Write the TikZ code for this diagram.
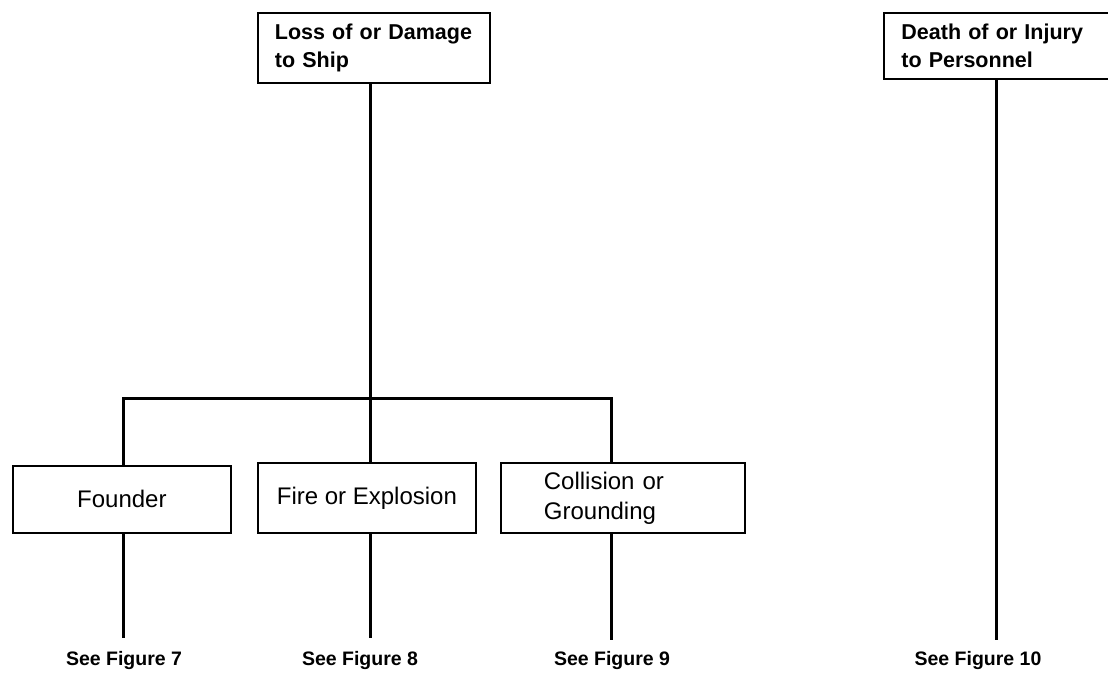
\documentclass[tikz,border=0pt]{standalone}
\usepackage{fontspec}
\setmainfont{Liberation Sans}
\begin{document}
\begin{tikzpicture}[x=1pt,y=-1pt,
  box/.style={draw=black, line width=1.8pt, inner sep=0pt, font=\fontsize{24}{30}\selectfont},
  topbox/.style={box, font=\bfseries\fontsize{21.5}{28}\selectfont},
  conn/.style={draw=black, line width=3pt},
  lbl/.style={inner sep=0pt, anchor=north, font=\bfseries\fontsize{19.5}{22}\selectfont}]
\useasboundingbox (0,0) rectangle (1108,679);
% top boxes
\node[topbox, anchor=north west, minimum width=232, minimum height=70, text width=198, align=left] (loss) at (257,12)
  {Loss of or Damage\\ to Ship};
\node[topbox, anchor=north west, minimum width=240, minimum height=66, text width=205, align=left] (death) at (883,12)
  {Death of or Injury\\ to Personnel};
% bottom boxes
\node[box, anchor=north west, minimum width=218, minimum height=67, align=center] (founder) at (12,465) {Founder};
\node[box, anchor=north west, minimum width=218, minimum height=70, align=center] (fire) at (257,462) {Fire or Explosion};
\node[box, anchor=north west, minimum width=244, minimum height=70, text width=158, align=left] (coll) at (500,462)
  {Collision or\\ Grounding};
% labels
\node[lbl] (l7) at (124,651) {See Figure 7};
\node[lbl] (l8) at (360,651) {See Figure 8};
\node[lbl] (l9) at (612,651) {See Figure 9};
\node[lbl] (l10) at (978,651) {See Figure 10};
% bus and line ends
\coordinate (busL) at (123,398);
\coordinate (busR) at (611,398);
\coordinate (mid) at (370,0);
\coordinate (e7) at (123,638);
\coordinate (e8) at (370,638);
\coordinate (e9) at (611,640);
\coordinate (e10) at (996,640);
\draw[conn] (loss.south -| mid) -- (mid |- fire.north);
\draw[conn] (busL |- founder.north) -- (busL) -- (busR) -- (busR |- coll.north);
% drops towards labels
\draw[conn] (busL |- founder.south) -- (e7);
\draw[conn] (mid |- fire.south) -- (e8);
\draw[conn] (busR |- coll.south) -- (e9);
\draw[conn] (e10 |- death.south) -- (e10);
\end{tikzpicture}
\end{document}
